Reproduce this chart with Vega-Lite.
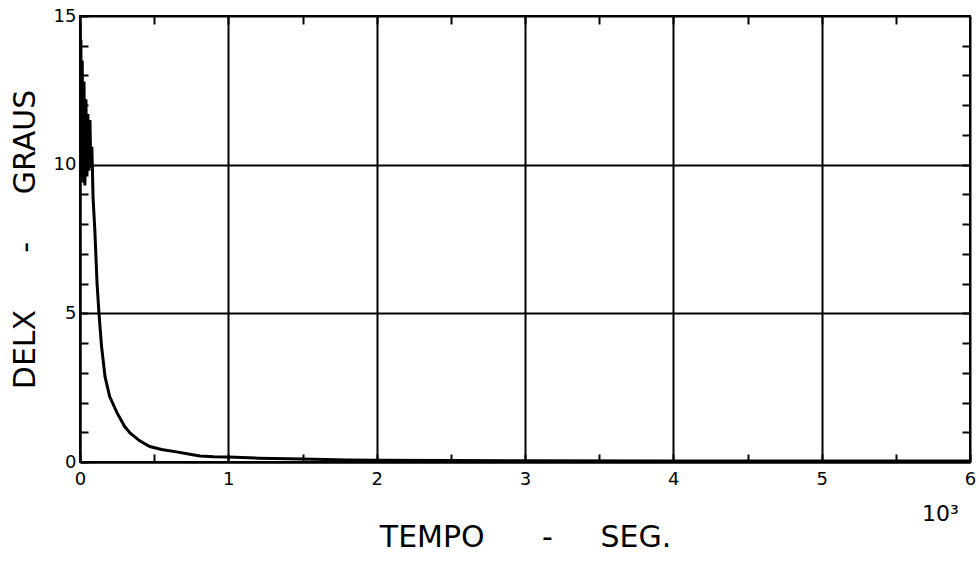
{
  "$schema": "https://vega.github.io/schema/vega-lite/v6.json",
  "width": 890,
  "height": 446,
  "autosize": {"type": "none"},
  "padding": {"left": 80, "top": 16, "right": 9, "bottom": 100},
  "background": "white",
  "config": {
    "view": {"stroke": "black", "strokeWidth": 2},
    "axis": {"labelFont": "DejaVu Sans", "titleFont": "DejaVu Sans", "labelColor": "black", "titleColor": "black", "tickColor": "black", "domainColor": "black"}
  },
  "datasets": {
    "curve": [
      {"t": 0, "v": 14.8},
      {"t": 0.003, "v": 12.0},
      {"t": 0.006, "v": 14.2},
      {"t": 0.01, "v": 9.6},
      {"t": 0.015, "v": 13.5},
      {"t": 0.02, "v": 9.4},
      {"t": 0.027, "v": 12.8},
      {"t": 0.033, "v": 9.3},
      {"t": 0.04, "v": 12.2},
      {"t": 0.047, "v": 9.6},
      {"t": 0.053, "v": 11.7},
      {"t": 0.06, "v": 9.8},
      {"t": 0.067, "v": 11.5},
      {"t": 0.073, "v": 9.9},
      {"t": 0.08, "v": 10.6},
      {"t": 0.088, "v": 8.9},
      {"t": 0.1, "v": 7.8},
      {"t": 0.115, "v": 6.0},
      {"t": 0.128, "v": 5.0},
      {"t": 0.145, "v": 3.9},
      {"t": 0.169, "v": 2.86},
      {"t": 0.2, "v": 2.2},
      {"t": 0.25, "v": 1.65},
      {"t": 0.3, "v": 1.2},
      {"t": 0.337, "v": 0.98},
      {"t": 0.4, "v": 0.72},
      {"t": 0.47, "v": 0.52},
      {"t": 0.55, "v": 0.42},
      {"t": 0.65, "v": 0.34},
      {"t": 0.75, "v": 0.25},
      {"t": 0.81, "v": 0.2},
      {"t": 0.9, "v": 0.18},
      {"t": 1.0, "v": 0.17},
      {"t": 1.2, "v": 0.13},
      {"t": 1.5, "v": 0.1},
      {"t": 1.8, "v": 0.07},
      {"t": 2.0, "v": 0.06},
      {"t": 2.5, "v": 0.05},
      {"t": 3.0, "v": 0.04},
      {"t": 4.0, "v": 0.03},
      {"t": 5.0, "v": 0.03},
      {"t": 6.0, "v": 0.03}
    ],
    "note": [{"label": "10³", "t": 5.8, "v": -2.0}]
  },
  "resolve": {"axis": {"x": "independent", "y": "independent"}},
  "layer": [
    {
      "data": {"name": "curve"},
      "mark": {"type": "line", "color": "black", "strokeWidth": 3, "clip": true},
      "encoding": {
        "x": {"field": "t", "type": "quantitative", "scale": {"domain": [0, 6], "nice": false, "zero": false},
          "axis": {"orient": "bottom", "values": [0,0.5,1,1.5,2,2.5,3,3.5,4,4.5,5,5.5,6],
            "labelExpr": "datum.value % 1 === 0 ? format(datum.value, 'd') : ''",
            "grid": true, "gridColor": "black", "gridWidth": 2,
            "gridOpacity": {"condition": {"test": "datum.value % 1 !== 0", "value": 0}, "value": 1},
            "tickSize": -8, "tickWidth": 2, "domainWidth": 2,
            "labelFontSize": 18, "labelPadding": 16, "labelFlush": false,
            "title": "TEMPO\u00a0\u00a0\u00a0\u00a0\u00a0\u00a0-\u00a0\u00a0\u00a0\u00a0\u00a0SEG.", "titleFontSize": 30, "titleFontWeight": "normal", "titlePadding": 34}},
        "y": {"field": "v", "type": "quantitative", "scale": {"domain": [0, 15], "nice": false, "zero": false},
          "axis": {"orient": "left", "values": [0,1,2,3,4,5,6,7,8,9,10,11,12,13,14,15],
            "labelExpr": "datum.value % 5 === 0 ? format(datum.value, 'd') : ''",
            "grid": true, "gridColor": "black", "gridWidth": 2,
            "gridOpacity": {"condition": {"test": "datum.value % 5 !== 0", "value": 0}, "value": 1},
            "tickSize": -8, "tickWidth": 2, "domainWidth": 2,
            "labelFontSize": 18, "labelPadding": 12, "labelFlush": false,
            "title": "DELX\u00a0\u00a0\u00a0\u00a0\u00a0\u00a0-\u00a0\u00a0\u00a0\u00a0\u00a0GRAUS", "titleFontSize": 30, "titleFontWeight": "normal", "titlePadding": 13}}
      }
    },
    {
      "data": {"name": "curve"},
      "mark": {"type": "line", "strokeOpacity": 0},
      "encoding": {
        "x": {"field": "t", "type": "quantitative",
          "axis": {"orient": "top", "values": [0.5,1,1.5,2,2.5,3,3.5,4,4.5,5,5.5], "labels": false, "grid": false, "domain": false,
            "tickSize": -8, "tickWidth": 2, "title": null}},
        "y": {"field": "v", "type": "quantitative",
          "axis": {"orient": "right", "values": [1,2,3,4,5,6,7,8,9,10,11,12,13,14], "labels": false, "grid": false, "domain": false,
            "tickSize": -8, "tickWidth": 2, "title": null}}
      }
    },
    {
      "data": {"name": "note"},
      "mark": {"type": "text", "font": "DejaVu Sans", "fontSize": 22, "color": "black", "align": "center", "baseline": "alphabetic"},
      "encoding": {
        "text": {"field": "label"},
        "x": {"field": "t", "type": "quantitative", "axis": null},
        "y": {"field": "v", "type": "quantitative", "axis": null}
      }
    }
  ]
}
